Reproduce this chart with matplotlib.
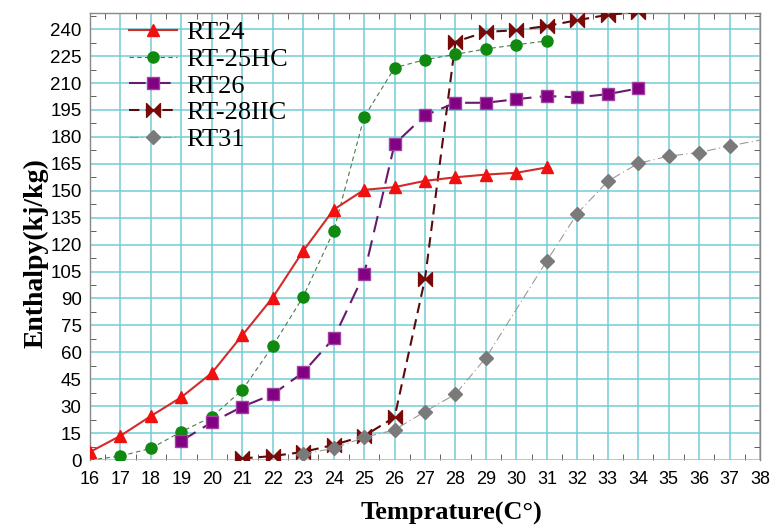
import matplotlib
matplotlib.use("Agg")
import matplotlib.pyplot as plt
from matplotlib.path import Path
from matplotlib.ticker import MultipleLocator

# enthalpy vs temperature for five PCMs
rt24_t = [16, 17, 18, 19, 20, 21, 22, 23, 24, 25, 26, 27, 28, 29, 30, 31]
rt24_h = [4.5, 13.5, 24.5, 35, 48.5, 69.5, 90.5, 116.5, 139.5, 150.5, 152, 155.5, 157.5, 159, 160, 163]

rt25_t = [16, 17, 18, 19, 20, 21, 22, 23, 24, 25, 26, 27, 28, 29, 30, 31]
rt25_h = [0, 2.2, 6.5, 15.8, 24, 39, 63.5, 91, 127.5, 191, 218.5, 223, 226, 229, 231.3, 233.5]

rt26_t = [19, 20, 21, 22, 23, 24, 25, 26, 27, 28, 29, 30, 31, 32, 33, 34]
rt26_h = [10.7, 21, 29.7, 36.6, 48.8, 67.8, 103.6, 176, 192, 199, 199, 201, 202.8, 202, 203.8, 207]

rt28_t = [21, 22, 23, 24, 25, 26, 27, 28, 29, 30, 31, 32, 33, 34]
rt28_h = [0.9, 2.2, 4.5, 8.4, 13.4, 23.8, 101, 233, 238.5, 239.4, 241.8, 245, 248, 249.5]

rt31_t = [23, 24, 25, 26, 27, 28, 29, 31, 32, 33, 34, 35, 36, 37, 38]
rt31_h = [3.3, 6.5, 12.6, 16.8, 27, 36.7, 57, 111, 137.3, 155.3, 165.2, 169.3, 171.3, 175, 178.2]

# sideways bowtie marker
bowtie = Path([(-1, 1), (-1, -1), (0, 0), (1, -1), (1, 1), (0, 0), (-1, 1)],
              [Path.MOVETO, Path.LINETO, Path.LINETO, Path.LINETO, Path.LINETO, Path.LINETO, Path.CLOSEPOLY])

fig = plt.figure(figsize=(7.72, 5.29), dpi=100)
ax = fig.add_axes([0.1166, 0.1304, 0.8679, 0.845])

ax.plot(rt24_t, rt24_h, color='#d42a2a', lw=1.5, marker='^', ms=9,
        mfc='#f01010', mec='#f01010', label='RT24', zorder=5)
ax.plot(rt25_t, rt25_h, color='#4a7a4a', lw=0.8, ls=(0, (4, 3)), marker='o', ms=8,
        mfc='#0f8a0f', mec='#0f8a0f', markevery=list(range(1, len(rt25_t))),
        label='RT-25HC', zorder=4)
ax.plot(rt26_t, rt26_h, color='#6a1a6a', lw=1.5, ls=(0, (8, 4)), marker='s', ms=9,
        mfc='#820082', mec='#a040a0', label='RT26', zorder=4)
ax.plot(rt28_t, rt28_h, color='#5a0a0a', lw=1.5, ls=(0, (5, 3)), marker=bowtie, ms=10,
        mfc='#7a0a0a', mec='#7a0a0a', label='RT-28IIC', zorder=3)
ax.plot(rt31_t, rt31_h, color='#9a9a9a', lw=0.8, ls=(0, (8, 3, 1, 3)), marker='D', ms=7.5,
        mfc='#7a7a7a', mec='#7a7a7a', markevery=list(range(len(rt31_t) - 1)),
        label='RT31', zorder=4)

ax.set_xlim(16, 38)
ax.set_ylim(0, 249)
ax.xaxis.set_major_locator(MultipleLocator(1))
ax.xaxis.set_minor_locator(MultipleLocator(0.5))
ax.yaxis.set_major_locator(MultipleLocator(15))
ax.yaxis.set_minor_locator(MultipleLocator(7.5))
ax.grid(True, which='major', color='#72cdd4', lw=1.1)
ax.set_axisbelow(True)

ax.tick_params(which='major', length=0)
ax.tick_params(axis='x', which='major', labelsize=13, pad=8)
ax.tick_params(axis='y', which='major', labelsize=13.5, pad=6)
ax.tick_params(which='minor', direction='in', length=4, color='#444444',
               top=True, right=True)
for lab in ax.get_xticklabels() + ax.get_yticklabels():
    lab.set_family('Liberation Sans')
for s in ax.spines.values():
    s.set_color('#888888')
    s.set_linewidth(1.0)
ax.spines['bottom'].set_visible(False)

ax.set_xlabel('Temprature(C°)', family='Liberation Serif', fontweight='bold', fontsize=19, labelpad=10)
ax.set_ylabel('Enthalpy(kj/kg)', family='Liberation Serif', fontweight='bold', fontsize=20, labelpad=1.5)
ax.xaxis.label.set_x(0.539)
ax.yaxis.label.set_y(0.463)

ax.legend(loc='upper left', frameon=False, prop={'family': 'Liberation Serif', 'size': 19},
          handlelength=1.8, handletextpad=0.35, labelspacing=0.12,
          borderaxespad=0, bbox_to_anchor=(0.043, 1.006))

fig.savefig('out.png', dpi=100)
